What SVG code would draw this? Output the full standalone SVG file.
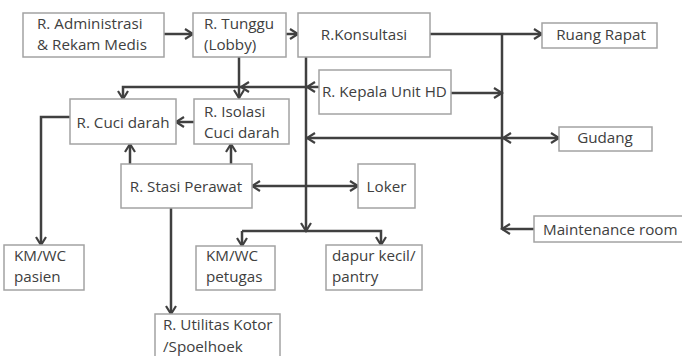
<svg xmlns="http://www.w3.org/2000/svg" width="682" height="356" viewBox="0 0 682 356">
<defs>
<marker id="ah" markerUnits="userSpaceOnUse" viewBox="-10 -7 12 14" refX="0" refY="0" markerWidth="12" markerHeight="14" orient="auto-start-reverse">
<path d="M-8,-5 L0,0 L-8,5" fill="none" stroke="#404040" stroke-width="2.2"/>
</marker>
<style>
rect{fill:#fff;stroke:#a3a3a3;stroke-width:1.5}
text{font-family:"Open Sans","Noto Sans",sans-serif;font-size:15.2px;fill:#404040}
.c{text-anchor:middle}
#connectors path{fill:none;stroke:#404040;stroke-width:2.5}
.e{marker-end:url(#ah)}
.b{marker-start:url(#ah);marker-end:url(#ah)}
</style>
</defs>
<rect x="0" y="0" width="682" height="356" style="fill:#fff;stroke:none"/>
<g id="connectors">
<path class="e" d="M164,34 H193"/>
<path class="e" d="M286,34 H298"/>
<path class="e" d="M430,34 H542"/>
<path d="M502,34 V229"/>
<path class="e" d="M534,229 H502"/>
<path class="e" d="M306,57 V231"/>
<path class="e" d="M242,231 H381 V245"/>
<path class="e" d="M242,231 V246"/>
<path class="e" d="M319,87 H307"/>
<path class="e" d="M306,87 H241"/>
<path class="e" d="M241,87 H123 V99"/>
<path class="e" d="M239,57 V98"/>
<path class="e" d="M451,93 H502"/>
<path class="e" d="M502,138 H307"/>
<path class="b" d="M503,138 H559"/>
<path class="e" d="M194,122 H176"/>
<path class="e" d="M70,117 H41 V245"/>
<path class="e" d="M130,164 V144"/>
<path class="e" d="M231,164 V144"/>
<path class="b" d="M252,186 H358"/>
<path class="e" d="M171,208 V314"/>
</g>
<g id="admin"><rect x="23" y="13" width="141" height="44"/><text x="37" y="29">R. Administrasi</text><text x="37" y="50">&amp; Rekam Medis</text></g>
<g id="tunggu"><rect x="193" y="13" width="93" height="44"/><text x="204" y="29">R. Tunggu</text><text x="204" y="50">(Lobby)</text></g>
<g id="konsultasi"><rect x="298" y="13" width="132" height="44"/><text class="c" x="364" y="39.5">R.Konsultasi</text></g>
<g id="ruang-rapat"><rect x="542" y="23" width="115" height="25"/><text class="c" x="601" y="40">Ruang Rapat</text></g>
<g id="kepala"><rect x="319" y="70" width="132" height="44"/><text x="322" y="97">R. Kepala Unit HD</text></g>
<g id="gudang"><rect x="559" y="127" width="93" height="24"/><text class="c" x="605" y="143">Gudang</text></g>
<g id="cuci-darah"><rect x="70" y="99" width="106" height="45"/><text class="c" x="123" y="128">R. Cuci darah</text></g>
<g id="isolasi"><rect x="194" y="99" width="95" height="45"/><text x="204" y="117">R. Isolasi</text><text x="204" y="138">Cuci darah</text></g>
<g id="stasi"><rect x="121" y="164" width="131" height="44"/><text class="c" x="186" y="192">R. Stasi Perawat</text></g>
<g id="loker"><rect x="358" y="164" width="57" height="44"/><text class="c" x="386.5" y="192">Loker</text></g>
<g id="maintenance"><rect x="534" y="216" width="152" height="26"/><text x="543" y="235">Maintenance room</text></g>
<g id="km-pasien"><rect x="4" y="245" width="80" height="45"/><text x="14" y="261">KM/WC</text><text x="14" y="282">pasien</text></g>
<g id="km-petugas"><rect x="196" y="246" width="79" height="44"/><text x="206" y="261">KM/WC</text><text x="206" y="282">petugas</text></g>
<g id="dapur"><rect x="326" y="245" width="96" height="45"/><text x="332" y="261">dapur kecil/</text><text x="332" y="282">pantry</text></g>
<g id="utilitas"><rect x="155" y="314" width="125" height="50"/><text x="163" y="330">R. Utilitas Kotor</text><text x="163" y="352">/Spoelhoek</text></g>
</svg>
